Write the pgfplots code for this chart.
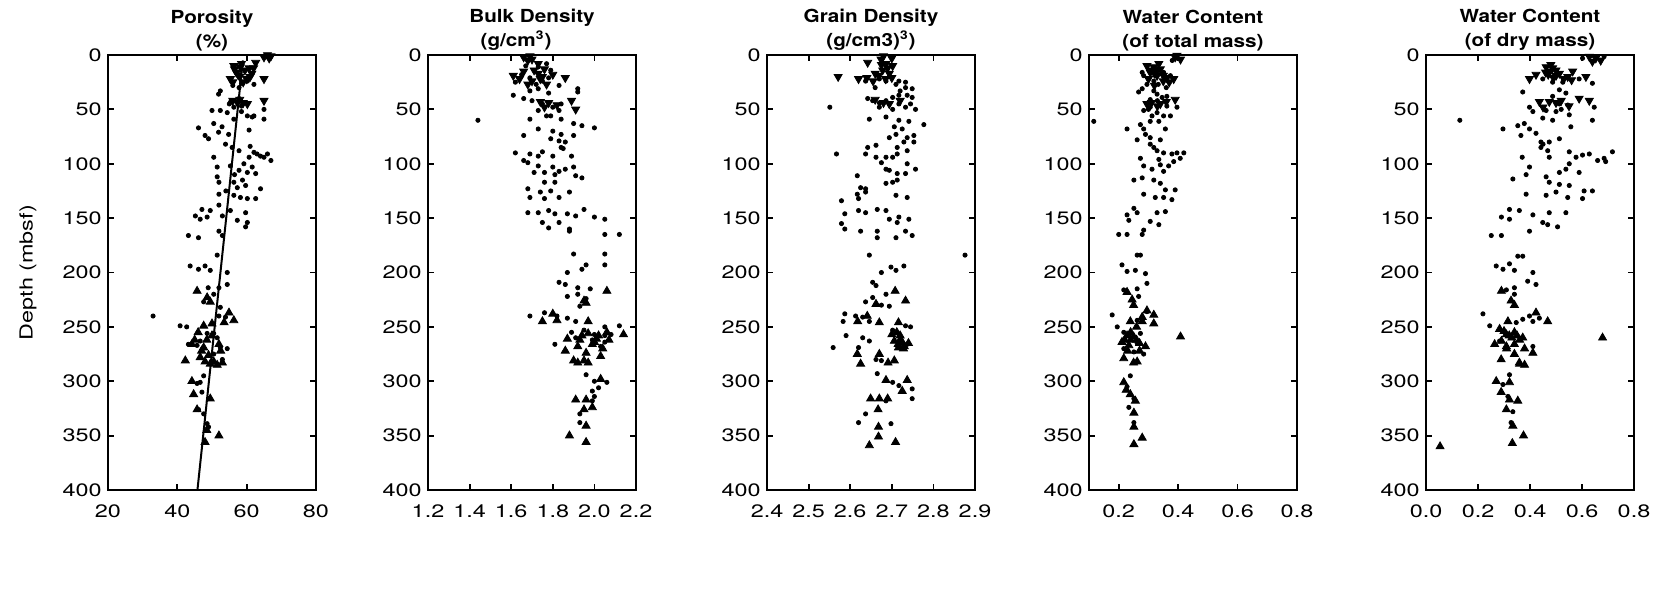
\documentclass[border=0pt]{standalone}
\usepackage{fontspec}
\setmainfont{TeX Gyre Heros}[FakeStretch=1.3, BoldFeatures={FakeStretch=1.15}]
\usepackage{pgfplots}
\pgfplotsset{compat=1.18}

\pgfplotsset{
  panel/.style={
    anchor=south west, scale only axis,
    width=104pt, height=217.5pt,
    y dir=reverse, ymin=0, ymax=400,
    ytick={0,50,100,150,200,250,300,350,400},
    tick align=inside, major tick length=3pt,
    axis line style={line width=0.9pt},
    every tick/.style={black, line width=0.9pt},
    /pgf/number format/assume math mode=true,
    ticklabel style={font=\fontsize{9}{11}\selectfont},
    xticklabel style={yshift=-4pt},
    title style={at={(0.5,1)}, anchor=south, align=center,
      font=\fontsize{9}{11}\selectfont\bfseries, yshift=-7pt},
  },
  dots/.style={only marks, mark=*, mark size=1.05pt, black},
  up/.style={only marks, mark=triangle*, mark size=2.3pt, black},
  down/.style={only marks, mark=triangle*, mark size=2.3pt, black, mark options={rotate=180}},
}

\begin{document}
\fontsize{9}{11}\selectfont
\begin{tikzpicture}
\path[use as bounding box] (0,0) rectangle (828.5pt,303.5pt);

% Porosity
\begin{axis}[panel, at={(54pt,58.5pt)},
  xmin=20, xmax=80, xtick={20,40,60,80},
  title={Porosity\\[1pt](\%)},
  ylabel={Depth (mbsf)},
  ylabel style={at={(axis description cs:-0.385,0.5)}, anchor=center, font=\fontsize{9}{11}\selectfont},
]
\addplot[down] coordinates {(66,0)(67,1)(65,2)(66.5,3)(62.6,7)(65,22)(55.3,22)(56.3,10)(58.2,11)(60.7,12)(57,16)(59.5,14)(61.5,17)(57.3,43.5)(60.2,45)(65,42)(56.5,13)(58,20)(60,22)(57.5,18)(59,25)(61,20)(56,25)(62,12)(58.5,8)(58,41)(59,44)(56,42)};
\addplot[dots] coordinates {(60.2,24)(62.1,27)(57.8,30)(52.4,33)(51.9,36)(58.5,26)(56,28)(55.3,43.5)(56.3,48)(60.2,56)(62.1,56)(65,50)(52.4,51)(54.4,53)(50,51)(56.3,59)(61.6,57)(65,59)(58.5,52)(57.8,40)(46.1,67)(50.5,63)(52.9,66)(51.9,71)(48,74)(49,77)(54.8,73)(60.7,69)(53.9,82)(55.8,85)(57.8,88)(50.5,94)(62.1,89.5)(64,93)(66,91)(67,97)(65,94)(63,91)(60.7,94)(59.2,100)(61.6,103)(51.5,103)(55.3,102)(57.8,106)(60.2,108)(62.6,109)(51.5,112)(52,117)(56.3,117)(57.3,122)(59.7,120)(64,123)(56.3,129)(58.2,131)(60.2,132)(62.6,132)(52,128)(52,138)(47.1,142)(49.5,143)(55.3,143)(59.7,145)(45.2,148)(46.6,151)(48.6,149)(53,148)(57.3,152)(60.2,154)(59.7,158)(43.2,166)(46.1,168)(52,162)(53,166)(51.5,184)(43.7,194)(46.1,197)(48,194)(49.5,198)(54.4,200)(54.4,211)(52,214)(48.9,214)(47.6,227)(50.5,220)(52.4,232)(53.9,241)(33,240)(52,240)(40.8,249)(42.7,250)(48.6,256)(50.5,256)(46.6,263)(43.2,266)(45.7,267)(51.5,260)(52.4,269)(54.4,270)(50.5,275)(53,280)(47.6,295)(45.7,302)(46.6,301)(47.1,310)(49,316)(46.1,326)(47.6,330)(48.6,339)(49,342)(58.5,47)(55,45)(61,84)(56.5,110)(58.8,115)(54,125)};
\addplot[up] coordinates {(45.7,217)(48.6,223)(49.5,227)(54.9,237)(56.3,244)(47.6,249)(44.2,266)(47.6,269)(42.3,281)(46.6,278)(49.5,284)(51.5,285)(44.2,300)(44.7,312)(49.5,316)(45.7,326)(52,350)(48,356)(50,258)(45,262)(52.5,272)(48,282)(48.5,345)(53.5,246)(50,247)(46,255)(48.5,262)(52,266)(47,272)(49,276)(50.5,282)(53,283)};
\addplot[black, line width=1pt] coordinates {(58.9,5)(45.8,400)};
\end{axis}

% Bulk density
\begin{axis}[panel, at={(214pt,58.5pt)},
  xmin=1.2, xmax=2.2, xtick={1.2,1.4,1.6,1.8,2.0,2.2},
  xticklabel style={/pgf/number format/fixed, /pgf/number format/fixed zerofill, /pgf/number format/precision=1},
  title={Bulk Density\\[1pt](g/cm\textsuperscript{3})\hspace*{16pt}},
]
\addplot[down] coordinates {(1.66,2)(1.68,5)(1.70,4)(1.73,8)(1.61,19)(1.64,22)(1.73,17)(1.76,13)(1.86,21)(1.78,44)(1.89,42)(1.91,50)(1.69,1)(1.75,20)(1.71,14)(1.66,15)(1.70,24)(1.74,22)(1.68,27)(1.77,27)(1.80,18)(1.74,43)(1.76,48)(1.82,46)};
\addplot[dots] coordinates {(1.67,10)(1.62,25)(1.69,21)(1.78,21)(1.75,24)(1.72,27)(1.83,28)(1.79,14)(1.73,11)(1.65,18)(1.77,8)(1.61,37)(1.69,33)(1.73,31)(1.92,31)(1.92,34)(1.66,40)(1.70,42)(1.75,45)(1.80,48)(1.83,51)(1.73,51)(1.69,59)(1.77,56)(1.84,59)(1.79,56)(1.44,60)(1.90,63)(1.94,65)(2.00,67)(1.73,68)(1.80,70)(1.84,73)(1.66,74)(1.90,74)(1.83,79)(1.86,80)(1.79,77)(1.84,85)(1.85,86)(1.62,90)(1.69,91)(1.73,93)(1.66,97)(1.68,99)(1.75,89)(1.80,93)(1.89,93)(1.73,102)(1.80,103)(1.86,105)(1.90,103)(1.71,108)(1.76,108)(1.81,110)(1.83,107)(1.91,111)(1.94,113)(1.76,117)(1.81,117)(1.68,123)(1.74,126)(1.79,125)(1.88,126)(1.69,131)(1.76,132)(1.83,131)(1.68,145)(1.73,145)(1.78,143)(1.81,146)(1.87,146)(1.91,148)(1.95,142)(1.75,154)(1.78,159)(1.83,154)(2.00,149)(2.05,151)(1.88,162)(2.05,165)(2.12,165)(1.90,183)(2.05,183)(1.96,193)(2.05,193)(1.94,197)(1.87,200)(1.83,209)(1.86,211)(1.92,214)(1.98,215)(1.87,222)(1.92,220)(1.96,224)(1.93,231)(1.69,240)(1.76,237)(1.87,242)(1.91,245)(2.05,250)(2.12,249)(1.89,255)(1.95,253)(2.00,257)(2.05,258)(2.08,257)(1.91,260)(1.81,266)(2.05,264)(1.96,294)(2.00,300)(2.06,301)(2.02,306)(1.99,309)(2.00,314)(1.99,318)(1.93,330)(1.93,338)(1.88,160)(1.82,240)(1.99,262)(2.03,268)(1.84,45)(1.78,35)};
\addplot[up] coordinates {(2.06,217)(1.96,228)(1.80,238)(1.75,245)(1.97,245)(2.14,257)(2.01,261)(1.87,261)(1.86,272)(1.92,268)(1.99,266)(2.07,262)(1.96,274)(2.03,277)(1.90,281)(1.92,283)(1.97,283)(2.03,298)(1.91,317)(1.96,317)(1.95,326)(1.99,324)(1.96,341)(1.88,350)(1.96,356)(1.95,226)(1.82,244)(2.04,270)(1.94,258)(1.97,256)(2.02,258)(2.06,255)(1.93,262)(1.95,281)(2.00,264)};
\end{axis}

% Grain density
\begin{axis}[panel, at={(383.5pt,58.5pt)},
  xmin=2.4, xmax=2.9, xtick={2.4,2.5,2.6,2.7,2.8,2.9},
  xticklabel style={/pgf/number format/fixed, /pgf/number format/fixed zerofill, /pgf/number format/precision=1},
  title={Grain Density\\[1pt](g/cm3)\textsuperscript{3})},
]
\addplot[down] coordinates {(2.642,7)(2.571,20)(2.674,4)(2.686,8)(2.702,10)(2.678,14)(2.694,17)(2.62,22)(2.694,45)(2.68,1)(2.668,19)(2.70,3)(2.685,22)(2.69,12)(2.675,9)(2.66,17)(2.70,21)(2.64,21)(2.655,24)(2.66,41)(2.68,44)(2.72,42)};
\addplot[dots] coordinates {(2.686,24)(2.67,22)(2.637,24)(2.717,24)(2.733,25)(2.71,27)(2.733,30)(2.749,31)(2.717,37)(2.737,37)(2.749,39)(2.642,40)(2.654,42)(2.67,44)(2.686,42)(2.702,39)(2.702,50)(2.717,45)(2.733,48)(2.757,50)(2.67,48)(2.551,48)(2.646,59)(2.686,57)(2.717,60)(2.741,61)(2.777,64)(2.706,66)(2.725,68)(2.71,73)(2.737,76)(2.753,74)(2.694,76)(2.729,80)(2.753,80)(2.662,83)(2.642,85)(2.713,85)(2.737,88)(2.713,91)(2.702,94)(2.637,91)(2.662,94)(2.686,94)(2.567,91)(2.675,99)(2.737,100)(2.757,105)(2.686,105)(2.694,106)(2.713,109)(2.733,109)(2.617,111)(2.625,122)(2.637,123)(2.702,117)(2.713,115)(2.686,118)(2.617,128)(2.637,126)(2.579,134)(2.62,132)(2.71,129)(2.737,131)(2.62,143)(2.637,145)(2.665,142)(2.686,143)(2.587,146)(2.694,151)(2.717,149)(2.741,151)(2.579,155)(2.587,160)(2.625,162)(2.665,162)(2.713,154)(2.733,162)(2.665,168)(2.71,168)(2.749,166)(2.646,184)(2.876,184)(2.729,194)(2.698,195)(2.71,198)(2.675,200)(2.654,209)(2.662,212)(2.686,220)(2.654,223)(2.637,227)(2.675,230)(2.694,231)(2.587,238)(2.613,240)(2.63,241)(2.646,245)(2.583,245)(2.733,249)(2.745,250)(2.702,253)(2.717,257)(2.59,258)(2.63,260)(2.646,263)(2.729,269)(2.737,266)(2.559,269)(2.62,269)(2.662,280)(2.675,281)(2.665,293)(2.702,301)(2.717,304)(2.749,307)(2.749,316)(2.686,318)(2.637,330)(2.62,338)(2.698,339)(2.66,30)(2.72,33)(2.745,45)};
\addplot[up] coordinates {(2.708,217)(2.733,226)(2.662,229)(2.641,240)(2.618,245)(2.67,246)(2.716,246)(2.712,255)(2.706,263)(2.725,264)(2.716,269)(2.617,275)(2.67,275)(2.691,283)(2.706,281)(2.625,284)(2.686,299)(2.737,299)(2.725,309)(2.649,316)(2.67,316)(2.69,316)(2.667,326)(2.668,342)(2.668,351)(2.709,356)(2.646,359)(2.728,270)(2.72,262)(2.70,257)(2.73,268)(2.74,265)(2.715,266)(2.72,258)};
\end{axis}

% Water content, total mass
\begin{axis}[panel, at={(544.5pt,58.5pt)},
  xmin=0.1, xmax=0.8, xtick={0.2,0.4,0.6,0.8},
  xticklabel style={/pgf/number format/fixed, /pgf/number format/fixed zerofill, /pgf/number format/precision=1},
  title={Water Content\\[1pt](of total mass)},
]
\addplot[down] coordinates {(0.396,0.6)(0.408,4)(0.39,2)(0.295,10)(0.318,11)(0.34,13)(0.306,16)(0.329,19)(0.362,21)(0.385,22)(0.39,41)(0.295,45)(0.34,45)(0.31,14)(0.335,8)(0.35,24)(0.32,17)(0.33,14)(0.30,22)(0.35,19)(0.37,25)(0.32,28)(0.31,44)(0.36,43)(0.33,47)};
\addplot[dots] coordinates {(0.38,5)(0.284,19)(0.374,19)(0.279,16)(0.351,16)(0.318,24)(0.295,27)(0.333,27)(0.279,31)(0.267,34)(0.318,33)(0.346,39)(0.362,38)(0.329,36)(0.306,41)(0.306,48)(0.362,47)(0.396,48)(0.284,51)(0.329,53)(0.351,56)(0.312,56)(0.374,56)(0.335,61)(0.306,61)(0.116,61)(0.228,68)(0.273,64)(0.284,68)(0.357,68)(0.29,73)(0.306,76)(0.262,78)(0.34,78)(0.306,82)(0.318,85)(0.329,88)(0.351,90)(0.379,91)(0.396,90)(0.419,90)(0.407,95)(0.385,98)(0.335,96)(0.273,95)(0.284,102)(0.34,101)(0.368,102)(0.351,107)(0.312,105)(0.251,115)(0.279,113)(0.318,115)(0.34,118)(0.357,124)(0.39,124)(0.284,128)(0.323,131)(0.351,131)(0.379,133)(0.251,141)(0.262,145)(0.329,145)(0.357,144)(0.228,147)(0.234,152)(0.306,153)(0.335,156)(0.284,161)(0.279,165)(0.2,165)(0.228,165)(0.262,184)(0.273,184)(0.211,193)(0.228,199)(0.256,198)(0.29,201)(0.295,210)(0.262,215)(0.217,216)(0.267,222)(0.178,239)(0.295,236)(0.262,244)(0.195,250)(0.217,255)(0.273,256)(0.262,265)(0.217,270)(0.284,275)(0.251,273)(0.239,295)(0.228,305)(0.251,316)(0.234,324)(0.251,338)(0.33,42)(0.36,30)(0.3,50)};
\addplot[up] coordinates {(0.228,218)(0.245,225)(0.25,230)(0.295,235)(0.318,239)(0.279,241)(0.239,245)(0.279,245)(0.318,247)(0.408,259)(0.228,258)(0.25,259)(0.211,264)(0.234,267)(0.29,268)(0.217,279)(0.262,282)(0.217,301)(0.239,312)(0.256,318)(0.251,329)(0.251,342)(0.279,352)(0.251,358)(0.24,262)(0.26,250)(0.27,272)(0.225,308)(0.22,262)(0.24,255)(0.26,262)(0.23,272)(0.25,283)(0.27,265)};
\end{axis}

% Water content, dry mass
\begin{axis}[panel, at={(713pt,58.5pt)},
  xmin=0, xmax=0.8, xtick={0,0.2,0.4,0.6,0.8},
  xticklabel style={/pgf/number format/fixed, /pgf/number format/fixed zerofill, /pgf/number format/precision=1},
  title={Water Content\\[1pt](of dry mass)},
]
\addplot[down] coordinates {(0.628,1.5)(0.653,3)(0.672,5)(0.64,6)(0.462,11)(0.487,12)(0.474,15)(0.513,17)(0.564,15)(0.545,20)(0.615,20)(0.398,22)(0.423,18)(0.589,40)(0.628,42)(0.436,43)(0.474,43)(0.50,14)(0.47,18)(0.48,9)(0.50,19)(0.53,22)(0.56,23)(0.46,16)(0.49,21)(0.50,44)(0.52,42)(0.55,47)(0.45,48)};
\addplot[dots] coordinates {(0.685,1.5)(0.602,3)(0.589,22)(0.449,22)(0.487,25)(0.526,25)(0.64,26)(0.372,34)(0.513,32)(0.538,35)(0.487,38)(0.513,45)(0.545,46)(0.398,48)(0.411,52)(0.462,51)(0.5,52)(0.551,55)(0.647,48)(0.449,58)(0.487,60)(0.64,60)(0.557,66)(0.13,60)(0.296,68)(0.353,65)(0.378,63)(0.398,68)(0.365,74)(0.423,72)(0.442,80)(0.474,80)(0.513,77)(0.442,85)(0.468,88)(0.37,94)(0.474,94)(0.551,89)(0.577,94)(0.602,92)(0.628,91)(0.66,97)(0.685,95)(0.717,89)(0.691,98)(0.551,100)(0.398,103)(0.385,110)(0.334,114)(0.462,112)(0.513,108)(0.538,105)(0.589,108)(0.474,117)(0.513,119)(0.551,120)(0.385,128)(0.462,129)(0.5,126)(0.545,131)(0.608,125)(0.64,125)(0.602,132)(0.321,142)(0.359,143)(0.411,147)(0.474,145)(0.538,145)(0.29,149)(0.321,151)(0.449,154)(0.468,156)(0.506,158)(0.398,162)(0.251,166)(0.29,166)(0.353,185)(0.372,185)(0.27,194)(0.296,197)(0.321,192)(0.34,198)(0.411,200)(0.391,208)(0.423,211)(0.309,216)(0.34,214)(0.34,220)(0.219,238)(0.398,240)(0.436,242)(0.372,243)(0.347,246)(0.411,245)(0.245,249)(0.283,263)(0.411,268)(0.321,294)(0.296,303)(0.315,314)(0.334,328)(0.327,338)(0.45,82)(0.52,50)};
\addplot[up] coordinates {(0.29,217)(0.327,226)(0.34,230)(0.423,237)(0.468,245)(0.315,245)(0.679,260)(0.283,252)(0.309,257)(0.34,255)(0.372,260)(0.264,266)(0.309,268)(0.34,266)(0.379,270)(0.411,274)(0.34,275)(0.289,280)(0.359,283)(0.379,285)(0.27,300)(0.321,301)(0.289,310)(0.321,317)(0.353,318)(0.309,326)(0.334,341)(0.375,350)(0.332,357)(0.054,360)(0.32,258)(0.36,262)(0.30,254)(0.33,260)(0.35,258)(0.29,263)(0.36,284)(0.31,270)};
\end{axis}
\end{tikzpicture}
\end{document}
